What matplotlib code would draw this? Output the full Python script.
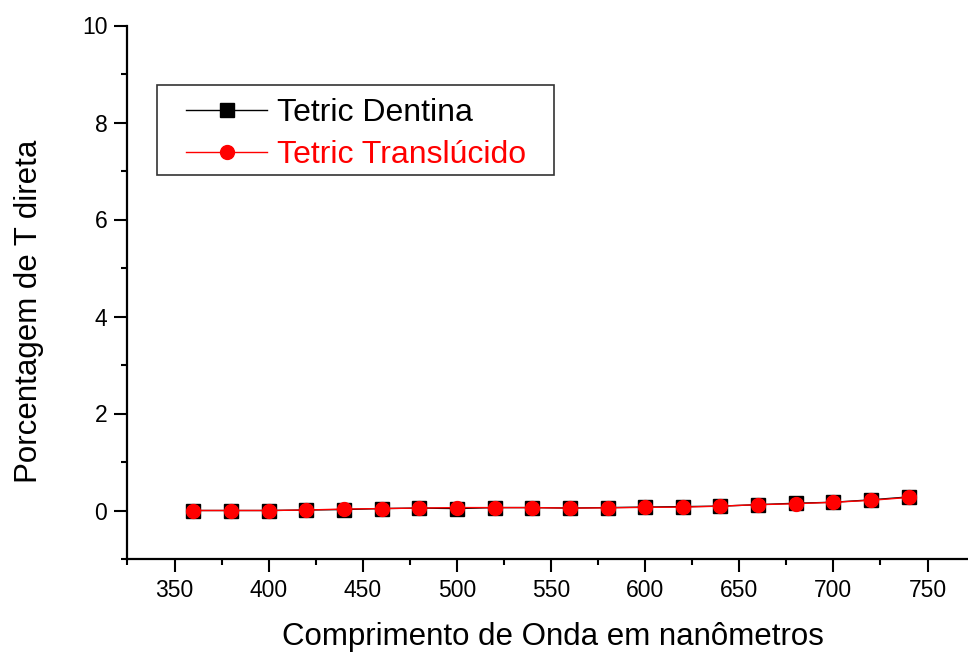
import numpy as np
import matplotlib
matplotlib.use("Agg")
import matplotlib.pyplot as plt
from matplotlib.ticker import MultipleLocator
from matplotlib.patches import Rectangle

plt.rcParams['font.family'] = ['Liberation Sans', 'DejaVu Sans']

# wavelength (nm) and direct transmittance (%)
wl = [360, 380, 400, 420, 440, 460, 480, 500, 520, 540,
      560, 580, 600, 620, 640, 660, 680, 700, 720, 740]
dentina = [0.00, 0.00, 0.00, 0.01, 0.02, 0.04, 0.05, 0.04, 0.06, 0.06,
           0.05, 0.06, 0.07, 0.08, 0.09, 0.12, 0.15, 0.17, 0.22, 0.28]
translucido = [0.00, 0.00, 0.00, 0.01, 0.03, 0.04, 0.05, 0.06, 0.06, 0.06,
               0.05, 0.055, 0.065, 0.07, 0.09, 0.12, 0.14, 0.17, 0.21, 0.27]

W, H = 968, 652
fig = plt.figure(figsize=(W/100, H/100), dpi=100)
ax = fig.add_axes([127.5/W, 1 - 559/H, (W - 127.5)/W, (559 - 25.5)/H])

ax.plot(wl, dentina, color='black', lw=1, marker='s', ms=9.5, mec='black', mfc='black',
        label='Tetric Dentina')
ax.plot(wl, translucido, color='red', lw=1, marker='o', ms=10, mec='red', mfc='red',
        label='Tetric Translúcido')

ax.set_xlim(325, 771.5)
ax.set_ylim(-1, 10)
ax.xaxis.set_major_locator(MultipleLocator(50))
ax.xaxis.set_minor_locator(MultipleLocator(25))
ax.yaxis.set_minor_locator(MultipleLocator(1))
ax.set_yticks([0, 2, 4, 6, 8, 10])

for s in ['top', 'right']:
    ax.spines[s].set_visible(False)
for s in ['left', 'bottom']:
    ax.spines[s].set_linewidth(1.6)

ax.tick_params(which='major', direction='out', length=9.5, width=1.5, labelsize=16.5, pad=5)
ax.tick_params(which='minor', direction='out', length=4.5, width=1.5)

ax.set_xlabel('Comprimento de Onda em nanômetros', fontsize=22.5, labelpad=14)
ax.set_ylabel('Porcentagem de T direta', fontsize=22.5, labelpad=27)
ax.xaxis.label.set_x(0.506)
ax.yaxis.label.set_y(0.464)

# legend (frame drawn separately to get the wide side padding)
leg = ax.legend(loc='upper left', bbox_to_anchor=(180/W, 1 - 92/H), bbox_transform=fig.transFigure,
                fontsize=23, frameon=False, handlelength=2.53, handletextpad=0.3,
                borderpad=0.2, borderaxespad=0, labelspacing=0.37)
for t, c in zip(leg.get_texts(), ['black', 'red']):
    t.set_color(c)
fig.patches.append(Rectangle((157/W, 1 - 175/H), (554 - 157)/W, 90/H, transform=fig.transFigure,
                             fill=False, edgecolor='#333333', lw=1.2, zorder=5))

fig.savefig('out.png', dpi=100)
